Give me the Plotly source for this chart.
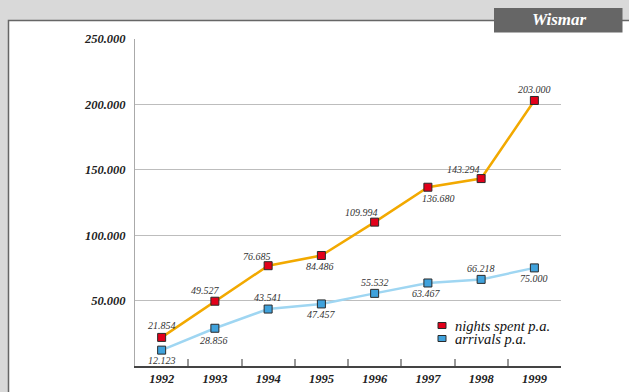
import plotly.graph_objects as go

years = ["1992", "1993", "1994", "1995", "1996", "1997", "1998", "1999"]
nights = [21854, 49527, 76685, 84486, 109994, 136680, 143294, 203000]
arrivals = [12123, 28856, 43541, 47457, 55532, 63467, 66218, 75000]
nights_lbl = ["21.854", "49.527", "76.685", "84.486", "109.994", "136.680", "143.294", "203.000"]
arrivals_lbl = ["12.123", "28.856", "43.541", "47.457", "55.532", "63.467", "66.218", "75.000"]
y_ticks = [50000, 100000, 150000, 200000, 250000]
y_tick_lbl = ["50.000", "100.000", "150.000", "200.000", "250.000"]
series_names = ["nights spent p.a.", "arrivals p.a."]
title = "Wismar"

# label offsets (pixels, dx, dy screen-down)
nights_off = [(0, -12), (-9, -11), (-11, -9), (-1, 11), (-13, -10), (11, 11), (-18, -9), (0, -11)]
arr_off = [(0, 10), (-1, 12), (0, -12), (0, 11), (0, -11), (-1, 11), (0, -11), (0, 11)]

W, H = 629, 392
PL, PR, PT, PB = 135, 561, 39, 366


def px(x):
    return (x - PL) / (PR - PL)


def py(y):
    return (PB - y) / (PB - PT)


RED = "#e2001a"
BLUE = "#40a2dc"
ORANGE = "#f2a900"
LBLUE = "#9fd6f2"
EDGE = "#2a2a2a"
SERIF = "Liberation Serif"

fig = go.Figure()
fig.add_trace(go.Scatter(x=years, y=nights, mode="lines+markers", name=series_names[0],
                         line=dict(color=ORANGE, width=2.5),
                         marker=dict(symbol="square", size=8, color=RED, line=dict(color=EDGE, width=1)),
                         showlegend=False, hoverinfo="skip"))
fig.add_trace(go.Scatter(x=years, y=arrivals, mode="lines+markers", name=series_names[1],
                         line=dict(color=LBLUE, width=2.5),
                         marker=dict(symbol="square", size=8, color=BLUE, line=dict(color=EDGE, width=1)),
                         showlegend=False, hoverinfo="skip"))

annotations = []
lab_font = dict(family=SERIF, size=10, color="#333333", style="italic")
for ys, ls, offs in [(nights, nights_lbl, nights_off), (arrivals, arrivals_lbl, arr_off)]:
    for i, (y, l, (dx, dy)) in enumerate(zip(ys, ls, offs)):
        annotations.append(dict(x=i, y=y, xref="x", yref="y", text=l, showarrow=False,
                                xshift=dx, yshift=-dy, font=lab_font,
                                xanchor="center", yanchor="middle"))

# legend text
leg_font = dict(family=SERIF, size=14.5, color="#111111", style="italic")
annotations.append(dict(xref="paper", yref="paper", x=px(453), y=py(325.5), text=series_names[0],
                        showarrow=False, xanchor="left", yanchor="middle", font=leg_font))
annotations.append(dict(xref="paper", yref="paper", x=px(453), y=py(338.5), text=series_names[1],
                        showarrow=False, xanchor="left", yanchor="middle", font=leg_font))
# title
annotations.append(dict(xref="paper", yref="paper", x=px(559), y=py(19.5), text=title,
                        showarrow=False, xanchor="center", yanchor="middle",
                        font=dict(family=SERIF, size=17, color="white", weight="bold", style="italic")))

shapes = [
    dict(type="rect", xref="paper", yref="paper", x0=px(8.5), x1=px(700), y0=py(440), y1=py(20.5),
         fillcolor="white", line=dict(color="#666666", width=1.5), layer="below"),
    dict(type="rect", xref="paper", yref="paper", x0=px(494), x1=px(622.5), y0=py(32.5), y1=py(8),
         fillcolor="#666666", line=dict(width=0), layer="below"),
    dict(type="rect", xref="paper", yref="paper", x0=px(438), x1=px(446), y0=py(328.5), y1=py(322.5),
         fillcolor=RED, line=dict(color=EDGE, width=1), layer="above"),
    dict(type="rect", xref="paper", yref="paper", x0=px(438), x1=px(446), y0=py(341.5), y1=py(335.5),
         fillcolor=BLUE, line=dict(color=EDGE, width=1), layer="above"),
]

tick_font = dict(family=SERIF, size=12.5, color="#222222", weight="bold", style="italic")

fig.update_layout(
    width=W, height=H,
    margin=dict(l=PL, r=W - PR, t=PT, b=H - PB, pad=0, autoexpand=False),
    paper_bgcolor="#d9d9d9",
    plot_bgcolor="rgba(0,0,0,0)",
    showlegend=False,
    shapes=shapes,
    annotations=annotations,
    xaxis=dict(type="category", range=[-0.5, 7.5], showgrid=False, showline=True,
               linecolor="#444444", linewidth=2, ticks="inside", ticklen=7, tickwidth=1.5,
               tickcolor="#999999", tickson="boundaries", tickfont=tick_font, automargin=False,
               fixedrange=True, zeroline=False),
    yaxis=dict(range=[0, 250000], tickvals=y_ticks, ticktext=y_tick_lbl, showgrid=True,
               gridcolor="#bdbdbd", gridwidth=1, showline=True, linecolor="#aaaaaa", linewidth=1,
               ticks="", ticklabelstandoff=6, tickfont=tick_font, zeroline=False, fixedrange=True,
               automargin=False),
)

fig.write_html("out.html")
